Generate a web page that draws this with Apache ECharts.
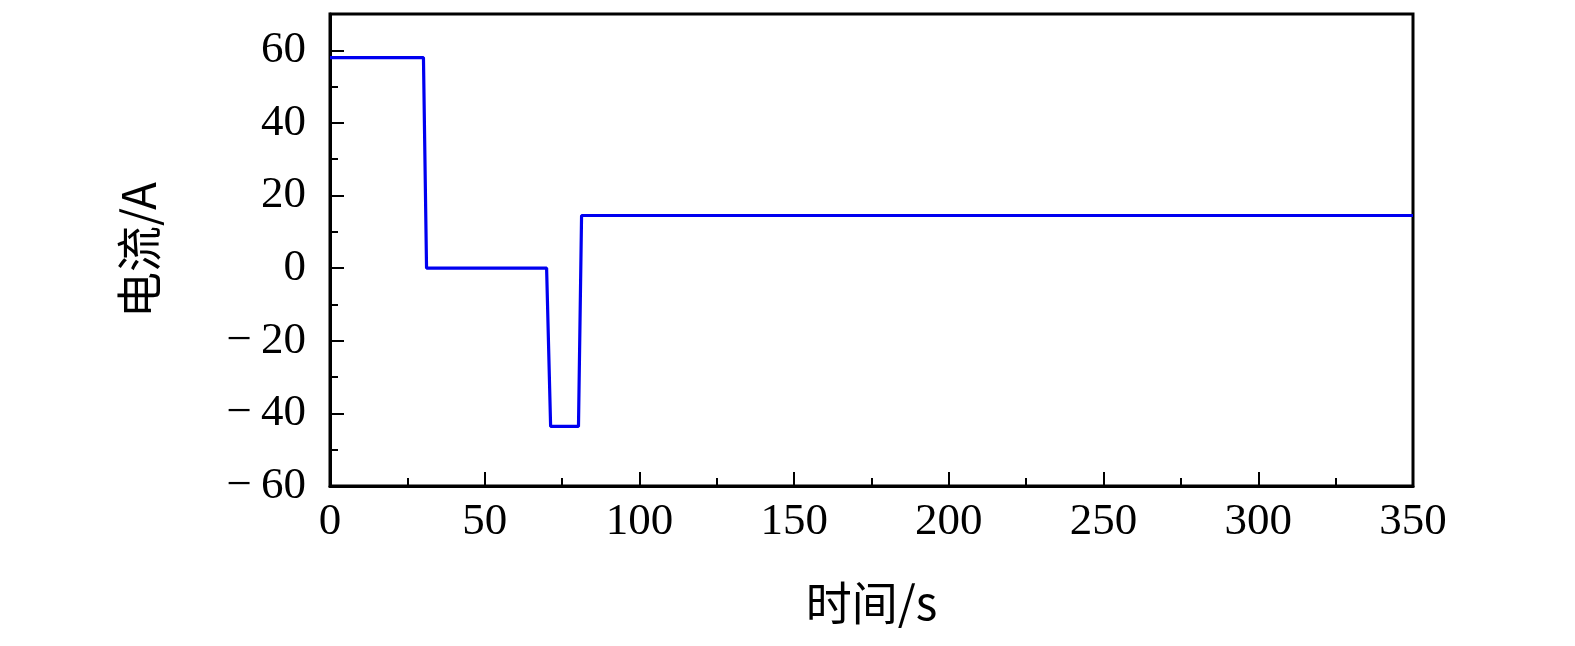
<!DOCTYPE html>
<html>
<head>
<meta charset="utf-8">
<script src="https://cdn.jsdelivr.net/npm/echarts@6/dist/echarts.min.js"></script>
<style>html,body{margin:0;padding:0;background:#fff}#c{width:1575px;height:646px}</style>
</head>
<body>
<div id="c"></div>
<script>
// Time (s) and current (A) of the step profile
const timeValues = [0, 30.2, 31.2, 70.0, 71.3, 80.3, 81.3, 350];
const currentValues = [58, 58, 0, 0, -43.6, -43.6, 14.5, 14.5];
const xTicks = [0, 50, 100, 150, 200, 250, 300, 350];
const yTicks = [-60, -40, -20, 0, 20, 40, 60];
const xName = '时间/s';
const yName = '电流/A';

const serif = '"Liberation Serif", "DejaVu Serif", serif';
const nameFont = '"Noto Sans CJK SC", "Liberation Serif", serif';

const chart = echarts.init(document.getElementById('c'));
const data = timeValues.map((t, i) => [t, currentValues[i]]);
const fmtY = v => {
  if (yTicks.indexOf(v) < 0) return '';
  return v < 0 ? '\u2212\u2009' + Math.abs(v) : String(v);
};
chart.setOption({
  animation: false,
  backgroundColor: '#fff',
  grid: { left: 330, right: 162, top: 14, bottom: 160, show: true, borderColor: '#000', borderWidth: 3, backgroundColor: 'transparent' },
  xAxis: {
    type: 'value', min: xTicks[0], max: xTicks[xTicks.length - 1], interval: 50,
    name: xName, nameLocation: 'middle', nameGap: 94,
    nameTextStyle: { fontFamily: nameFont, fontSize: 46, color: '#000' },
    axisLine: { show: true, onZero: false, lineStyle: { color: '#000', width: 3 } },
    axisTick: { show: true, inside: true, length: 14, lineStyle: { color: '#000', width: 2 } },
    minorTick: { show: true, splitNumber: 2, length: 8, lineStyle: { color: '#000', width: 2 } },
    axisLabel: { margin: 14, fontFamily: serif, fontSize: 45, color: '#000' },
    splitLine: { show: false }, minorSplitLine: { show: false }
  },
  yAxis: [{
    type: 'value', min: -60, max: 70, interval: 20,
    name: yName, nameLocation: 'middle', nameGap: 168, nameRotate: 90,
    nameTextStyle: { fontFamily: nameFont, fontSize: 46, color: '#000' },
    axisLine: { show: true, onZero: false, lineStyle: { color: '#000', width: 3 } },
    axisTick: { show: true, inside: true, length: 14, lineStyle: { color: '#000', width: 2 } },
    axisLabel: { margin: 24, fontFamily: serif, fontSize: 45, color: '#000', formatter: fmtY },
    splitLine: { show: false }
  }, {
    type: 'value', min: -60, max: 70, interval: 10, position: 'left',
    axisLine: { show: false, onZero: false },
    axisTick: { show: true, inside: true, length: 8, lineStyle: { color: '#000', width: 2 } },
    axisLabel: { show: false },
    splitLine: { show: false }
  }],
  series: [{
    type: 'line', data: data, yAxisIndex: 0, showSymbol: false, symbol: 'none',
    lineStyle: { color: '#0000f0', width: 3.2 }, clip: true
  }]
});
</script>
</body>
</html>
